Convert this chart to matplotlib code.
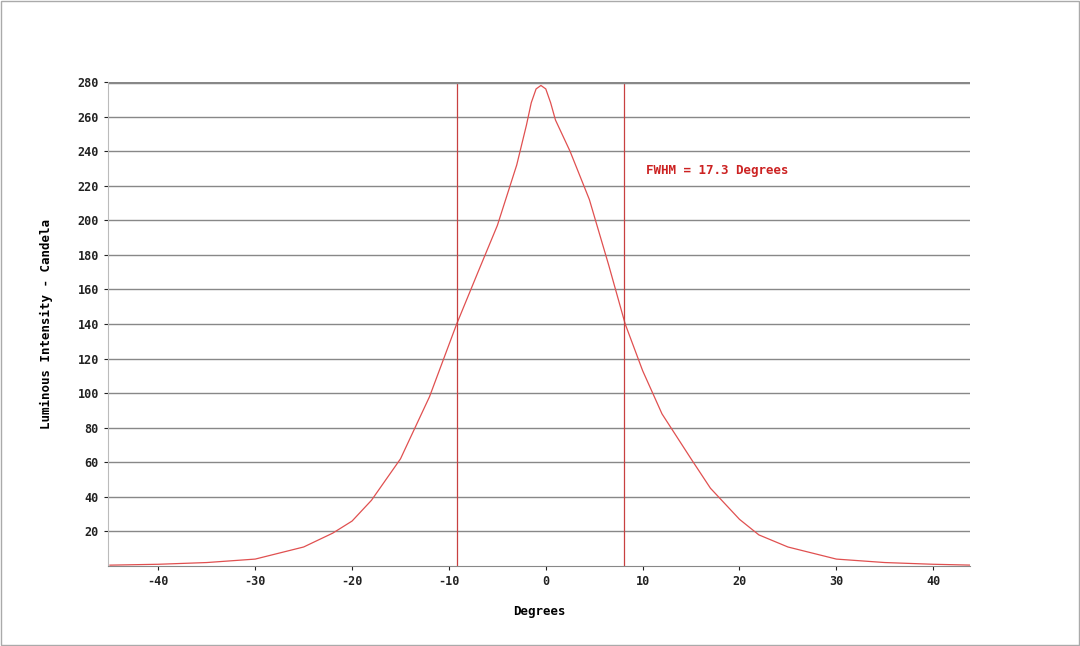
import matplotlib.pyplot as plt
from matplotlib.patches import Rectangle

plt.rcParams['font.family'] = 'DejaVu Sans Mono'
plt.rcParams['axes.unicode_minus'] = False

degrees = [-45, -40, -35, -30, -25, -22, -20, -18, -15, -12, -10, -9.2, -7, -5, -3, -2, -1.5, -1, -0.5, 0,
           0.5, 1, 2.5, 4.5, 6.5, 8.2, 10, 12, 15, 17, 20, 22, 25, 30, 35, 40, 44]
intensity = [0.5, 1, 2, 4, 11, 19, 26, 38, 62, 98, 128, 140, 170, 197, 232, 255, 268, 276, 278, 276,
             268, 258, 240, 212, 174, 140, 113, 88, 62, 45, 27, 18, 11, 4, 2, 1, 0.5]
fwhm_lines = [-9.2, 8.1]

fig = plt.figure(figsize=(10.8, 6.46), dpi=100)
fig.patches.append(Rectangle((0.001, 0.001), 0.998, 0.997, transform=fig.transFigure,
                             fill=False, edgecolor='#aaaaaa', linewidth=1))
ax = fig.add_axes([108/1080, 1-566/646, 862/1080, 484/646])

ax.plot(degrees, intensity, color='#e05050', linewidth=0.9)
for v in fwhm_lines:
    ax.axvline(v, color='#c84040', linewidth=0.9)

ax.set_xlim(-45.2, 43.8)
ax.set_ylim(0, 280)
ax.set_xticks(range(-40, 41, 10))
ax.set_yticks(range(20, 281, 20))
ax.grid(axis='y', color='#888888', linewidth=1)
ax.axhline(280, color='#888888', linewidth=2.5)
for s in ax.spines.values():
    s.set_visible(False)
ax.spines['bottom'].set_visible(True)
ax.spines['bottom'].set_color('#888888')
ax.spines['left'].set_visible(True)
ax.spines['left'].set_color('#bbbbbb')
ax.tick_params(labelsize=8.5, length=3, colors='#222222')
for lbl in ax.get_xticklabels() + ax.get_yticklabels():
    lbl.set_fontweight('bold')

ax.set_xlabel('Degrees', fontsize=9, fontweight='bold', labelpad=12)
ax.set_ylabel('Luminous Intensity - Candela', fontsize=9, fontweight='bold', labelpad=18)
ax.text(10.3, 229, 'FWHM = 17.3 Degrees', color='#cc2222', fontsize=9, fontweight='bold', va='center')

fig.savefig('out.png', dpi=100)
